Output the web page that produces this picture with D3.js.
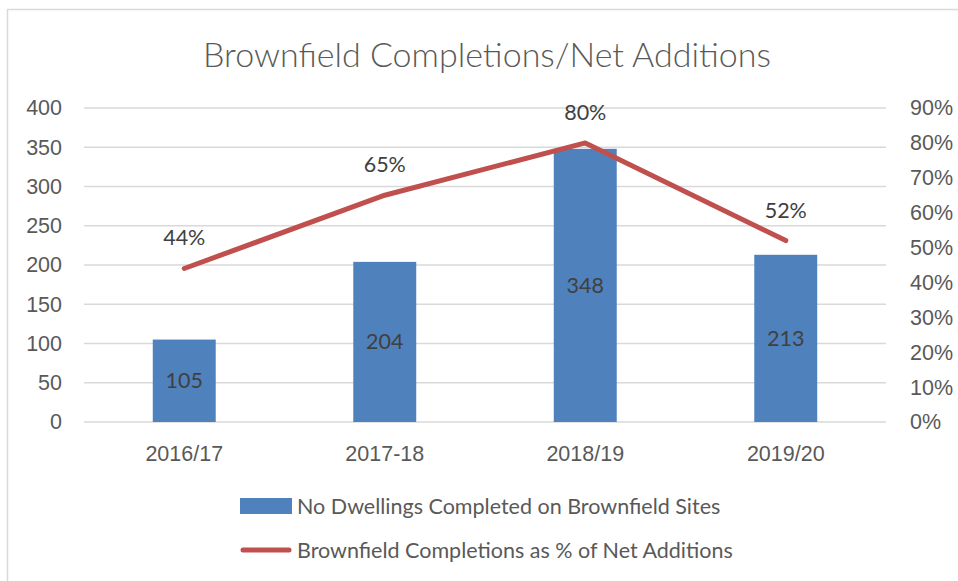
<!DOCTYPE html>
<html>
<head>
<meta charset="utf-8">
<script src="https://cdn.jsdelivr.net/npm/d3@7"></script>
<style>
  body { margin: 0; background: #fff; }
  svg { display: block; font-family: Lato, "Open Sans", sans-serif; }
</style>
</head>
<body>
<div id="chart"></div>
<script>
"use strict";

// chart data
const categories = ['2016/17', '2017-18', '2018/19', '2019/20'];
const dwellings = [105, 204, 348, 213];
const brownfieldPct = [0.44, 0.65, 0.80, 0.52];
const leftTicks = [0, 50, 100, 150, 200, 250, 300, 350, 400];
const rightTicks = [0, 0.1, 0.2, 0.3, 0.4, 0.5, 0.6, 0.7, 0.8, 0.9];
const titleText = 'Brownfield Completions/Net Additions';
const barLegend = 'No Dwellings Completed on Brownfield Sites';
const lineLegend = 'Brownfield Completions as % of Net Additions';

const width = 958;
const height = 581;
const margin = { top: 108, right: 72, bottom: 159, left: 84 };
const fontSize = '21.5px';

const svg = d3.select('#chart')
  .append('svg')
  .attr('width', width)
  .attr('height', height);

// outer chart border
svg.append('rect')
  .attr('x', 7.5)
  .attr('y', 9.5)
  .attr('width', 990)
  .attr('height', 620)
  .attr('fill', '#fff')
  .attr('stroke', '#d9d9d9')
  .attr('stroke-width', 1.5);

const x = d3.scaleBand()
  .domain(categories)
  .range([margin.left, width - margin.right]);

const yLeft = d3.scaleLinear()
  .domain([0, 400])
  .range([height - margin.bottom, margin.top]);

const yRight = d3.scaleLinear()
  .domain([0, 0.9])
  .range([height - margin.bottom, margin.top]);

// gridlines
svg.append('g')
  .selectAll('line')
  .data(leftTicks)
  .enter().append('line')
    .attr('x1', margin.left)
    .attr('x2', width - margin.right)
    .attr('y1', d => yLeft(d))
    .attr('y2', d => yLeft(d))
    .attr('stroke', '#d9d9d9')
    .attr('stroke-width', 1.3);

// left axis
const leftAxis = svg.append('g')
  .attr('transform', `translate(${margin.left - 22},0)`)
  .call(d3.axisLeft(yLeft).tickValues(leftTicks).tickSize(0).tickPadding(0));
leftAxis.select('.domain').remove();
leftAxis.selectAll('text')
  .attr('fill', '#595959')
  .style('font-size', fontSize);

// right axis
const rightAxis = svg.append('g')
  .attr('transform', `translate(${width - margin.right + 24},0)`)
  .call(d3.axisRight(yRight).tickValues(rightTicks).tickSize(0).tickPadding(0)
    .tickFormat(d3.format('.0%')));
rightAxis.select('.domain').remove();
rightAxis.selectAll('text')
  .attr('fill', '#595959')
  .style('font-size', fontSize);

// category axis
const bottomAxis = svg.append('g')
  .attr('transform', `translate(0,${height - margin.bottom})`)
  .call(d3.axisBottom(x).tickSize(0).tickPadding(24));
bottomAxis.select('.domain').remove();
bottomAxis.selectAll('text')
  .attr('fill', '#595959')
  .style('font-size', fontSize);

// bars
const barWidth = x.bandwidth() * 0.314;
svg.append('g')
  .selectAll('rect')
  .data(dwellings)
  .enter().append('rect')
    .attr('x', (d, i) => x(categories[i]) + x.bandwidth() / 2 - barWidth / 2)
    .attr('y', d => yLeft(d))
    .attr('width', barWidth)
    .attr('height', d => yLeft(0) - yLeft(d))
    .attr('fill', '#4f81bd');

svg.append('g')
  .selectAll('text')
  .data(dwellings)
  .enter().append('text')
    .attr('x', (d, i) => x(categories[i]) + x.bandwidth() / 2)
    .attr('y', d => (yLeft(d) + yLeft(0)) / 2)
    .attr('dy', '0.35em')
    .attr('text-anchor', 'middle')
    .attr('fill', '#404040')
    .style('font-size', fontSize)
    .text(d => d);

// line
const line = d3.line()
  .x((d, i) => x(categories[i]) + x.bandwidth() / 2)
  .y(d => yRight(d));

svg.append('path')
  .datum(brownfieldPct)
  .attr('d', line)
  .attr('fill', 'none')
  .attr('stroke', '#c0504d')
  .attr('stroke-width', 5)
  .attr('stroke-linecap', 'round')
  .attr('stroke-linejoin', 'round');

svg.append('g')
  .selectAll('text')
  .data(brownfieldPct)
  .enter().append('text')
    .attr('x', (d, i) => x(categories[i]) + x.bandwidth() / 2)
    .attr('y', d => yRight(d) - 23)
    .attr('text-anchor', 'middle')
    .attr('fill', '#404040')
    .style('font-size', fontSize)
    .text(d => d3.format('.0%')(d));

// title
svg.append('text')
  .attr('x', 487)
  .attr('y', 67)
  .attr('text-anchor', 'middle')
  .attr('fill', '#595959')
  .style('font-size', '34px')
  .style('font-weight', 300)
  .text(titleText);

// legend
const legend = svg.append('g');
legend.append('rect')
  .attr('x', 240)
  .attr('y', 498)
  .attr('width', 52)
  .attr('height', 16)
  .attr('fill', '#4f81bd');
legend.append('text')
  .attr('x', 297)
  .attr('y', 506)
  .attr('dy', '0.35em')
  .attr('fill', '#595959')
  .style('font-size', fontSize)
  .text(barLegend);

legend.append('line')
  .attr('x1', 243)
  .attr('x2', 289)
  .attr('y1', 550)
  .attr('y2', 550)
  .attr('stroke', '#c0504d')
  .attr('stroke-width', 5)
  .attr('stroke-linecap', 'round');
legend.append('text')
  .attr('x', 297)
  .attr('y', 550)
  .attr('dy', '0.35em')
  .attr('fill', '#595959')
  .style('font-size', fontSize)
  .text(lineLegend);
</script>
</body>
</html>
